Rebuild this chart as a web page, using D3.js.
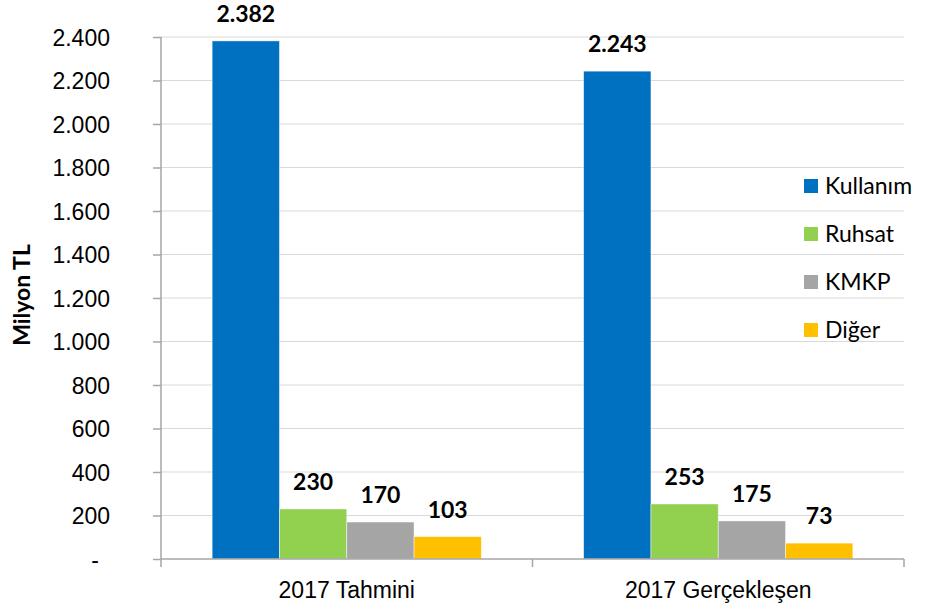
<!DOCTYPE html>
<meta charset="utf-8">
<style>
    body { margin: 0; background: #fff; }
    svg { font-family: "Lato", "Open Sans", sans-serif; }
    .grid line { stroke: #d9d9d9; stroke-width: 1px; }
    .axis path, .axis line { stroke: #a6a6a6; stroke-width: 1.5px; }
    .axis text { font-size: 23px; fill: #000; }
    .val { font-size: 23px; font-weight: bold; fill: #000; }
    .legend text { font-size: 23px; fill: #000; }
</style>
<body>
<script src="https://d3js.org/d3.v7.min.js"></script>
<script>
    // data
    var categories = ["2017 Tahmini", "2017 Gerçekleşen"];
    var series = ["Kullanım", "Ruhsat", "KMKP", "Diğer"];
    var kullanim = [2382, 2243];
    var ruhsat = [230, 253];
    var kmkp = [170, 175];
    var diger = [103, 73];
    var yTicks = [0, 200, 400, 600, 800, 1000, 1200, 1400, 1600, 1800, 2000, 2200, 2400];
    var colors = ["#0070C0", "#92D050", "#A5A5A5", "#FFC000"];

    var values = [kullanim, ruhsat, kmkp, diger];

    var W = 926, H = 611;
    var margin = {top: 37, right: 22, bottom: 52, left: 161},
        width = W - margin.left - margin.right,
        height = H - margin.top - margin.bottom;

    var svg = d3.select("body").append("svg")
        .attr("width", W)
        .attr("height", H);

    var g = svg.append("g")
        .attr("transform", "translate(" + margin.left + "," + margin.top + ")");

    var x0 = d3.scaleBand().domain(categories).range([0, width]).padding(0);
    var x1 = d3.scaleBand().domain(series).range([0, x0.bandwidth()])
        .paddingInner(0).paddingOuter(0.76);
    var y = d3.scaleLinear().domain([0, 2400]).range([height, 0]);

    // gridlines
    g.append("g")
        .attr("class", "grid")
        .selectAll("line")
        .data(yTicks.slice(1))
        .join("line")
        .attr("x1", 0).attr("x2", width)
        .attr("y1", function(d) { return y(d); })
        .attr("y2", function(d) { return y(d); });

    // bars
    var table = [];
    categories.forEach(function(c, i) {
        series.forEach(function(s, j) {
            table.push({cat: c, ser: s, val: values[j][i], color: colors[j]});
        });
    });

    g.selectAll(".bar")
        .data(table)
        .join("rect")
        .attr("class", "bar")
        .attr("x", function(d) { return x0(d.cat) + x1(d.ser); })
        .attr("y", function(d) { return y(d.val); })
        .attr("width", x1.bandwidth())
        .attr("height", function(d) { return height - y(d.val); })
        .attr("fill", function(d) { return d.color; })
        .attr("stroke", "#ffffff")
        .attr("stroke-opacity", 0.6)
        .attr("stroke-width", 0.75);

    // value labels
    var fmt = d3.formatLocale({decimal: ",", thousands: ".", grouping: [3], currency: ["", ""]}).format(",d");
    g.selectAll(".val")
        .data(table)
        .join("text")
        .attr("class", "val")
        .attr("x", function(d) { return x0(d.cat) + x1(d.ser) + x1.bandwidth() / 2; })
        .attr("y", function(d) { return y(d.val) - 19; })
        .attr("text-anchor", "middle")
        .text(function(d) { return fmt(d.val); });

    // y axis
    var yAxis = g.append("g")
        .attr("class", "axis")
        .call(d3.axisLeft(y).tickValues(yTicks).tickSize(8).tickPadding(43)
            .tickFormat(function(d) { return d === 0 ? "-" : fmt(d); }));
    yAxis.select(".domain").attr("d", "M0,0V" + height);
    yAxis.selectAll(".tick text").attr("dy", "0.36em");
    yAxis.selectAll(".tick").filter(function(d) { return d === 0; })
        .select("text").attr("x", -62);

    // x axis
    var xAxis = g.append("g")
        .attr("class", "axis")
        .attr("transform", "translate(0," + height + ")")
        .call(d3.axisBottom(x0).tickSize(0).tickPadding(23));
    xAxis.select(".domain").attr("d", "M0,0H" + width);
    xAxis.selectAll(".sep")
        .data([0, width / 2, width])
        .join("line")
        .attr("class", "sep")
        .attr("x1", function(d) { return d; })
        .attr("x2", function(d) { return d; })
        .attr("y1", 0).attr("y2", 8);

    // y axis title
    svg.append("text")
        .attr("transform", "translate(30,295) rotate(-90)")
        .attr("text-anchor", "middle")
        .style("font-size", "23px")
        .style("font-weight", "bold")
        .text("Milyon TL");

    // legend
    var legend = svg.append("g")
        .attr("class", "legend")
        .selectAll("g")
        .data(series)
        .join("g")
        .attr("transform", function(d, i) { return "translate(804," + (186 + i * 48) + ")"; });
    legend.append("rect")
        .attr("x", 0).attr("y", -7)
        .attr("width", 14).attr("height", 14)
        .attr("fill", function(d, i) { return colors[i]; });
    legend.append("text")
        .attr("x", 21).attr("dy", "0.36em")
        .text(function(d) { return d; });
</script>
</body>
